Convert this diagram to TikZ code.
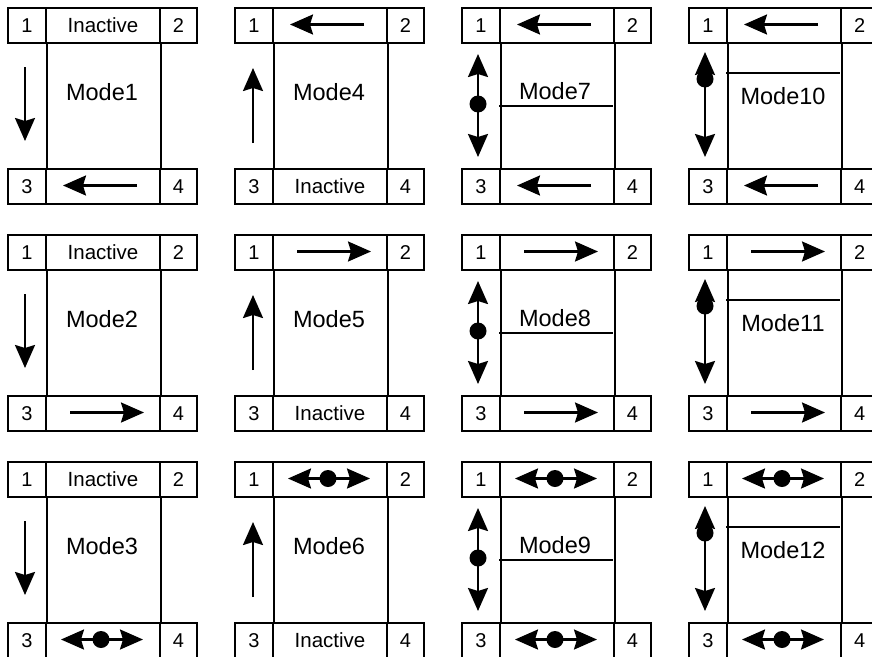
\documentclass[tikz,border=0pt]{standalone}
\usepackage{fontspec}
\setmainfont{Liberation Sans}
\usetikzlibrary{arrows.meta}
\newcommand\myhsym[1]{%
  \ifcase\r
    \draw[arr] (130,#1) -- (56,#1);
  \or
    \draw[arr] (63,#1) -- (137,#1);
  \or
    \draw[darr] (54,#1) -- (136,#1);
    \fill (94,#1) circle (8.5pt);
  \fi}
\begin{document}
\begin{tikzpicture}[x=1pt,y=-1pt,
  frame/.style={draw, line width=2.1pt, minimum height=35pt, inner sep=0pt, anchor=north west},
  numbox/.style={frame, font=\fontsize{20}{20}\selectfont},
  midbox/.style={frame, minimum width=114pt, font=\fontsize{20.5}{20.5}\selectfont},
  modetxt/.style={font=\fontsize{23.5}{23.5}\selectfont, inner sep=0pt},
  wall/.style={line width=2.1pt},
  sep/.style={line width=1.8pt},
  arr/.style={line width=2.3pt, -{Stealth[length=23pt,width=20pt,inset=3pt]}},
  darr/.style={line width=2.3pt, {Stealth[length=23pt,width=20pt,inset=3pt]}-{Stealth[length=23pt,width=20pt,inset=3pt]}}
]
\useasboundingbox (0,0) rectangle (872,656);
\clip (0,0) rectangle (872,656);
\foreach \c in {0,1,2,3}{
  \foreach \r in {0,1,2}{
    \pgfmathtruncatemacro\m{3*\c+\r+1}
    \begin{scope}[shift={({227*\c+7},{227*\r+7})}]
      \node[numbox, minimum width=38pt] (a\c\r) at (0,0) {1};
      \node[midbox] (b\c\r) at (38,0) {\ifnum\c=0 Inactive\fi};
      \node[numbox, minimum width=37pt] (c\c\r) at (152,0) {2};
      \node[numbox, minimum width=38pt] (d\c\r) at (0,161) {3};
      \node[midbox] (e\c\r) at (38,161) {\ifnum\c=1 Inactive\fi};
      \node[numbox, minimum width=37pt] (f\c\r) at (152,161) {4};
      \draw[wall] (a\c\r.south east) -- (d\c\r.north east);
      \draw[wall] (b\c\r.south east) -- (e\c\r.north east);
      \ifnum\c>0 \myhsym{17.5}\fi
      \ifnum\c=1 \else \myhsym{178.5}\fi
      \ifcase\c
        \draw[arr] (18,60) -- (18,134);
        \node[modetxt] (m\c\r) at (95,85) {Mode\m};
      \or
        \draw[arr] (19,136) -- (19,61);
        \node[modetxt] (m\c\r) at (95,85) {Mode\m};
      \or
        \draw[darr] (17,47) -- (17,150);
        \fill (17,97) circle (8.5pt);
        \draw[sep] (38,99) -- (152,99);
        \node[modetxt] (m\c\r) at (94,84) {Mode\m};
      \or
        \draw[darr] (17,45) -- (17,150);
        \fill (17,72) circle (8.5pt);
        \draw[sep] (38,66) -- (152,66);
        \node[modetxt] (m\c\r) at (95,89) {Mode\m};
      \fi
    \end{scope}
  }
}
\end{tikzpicture}
\end{document}
